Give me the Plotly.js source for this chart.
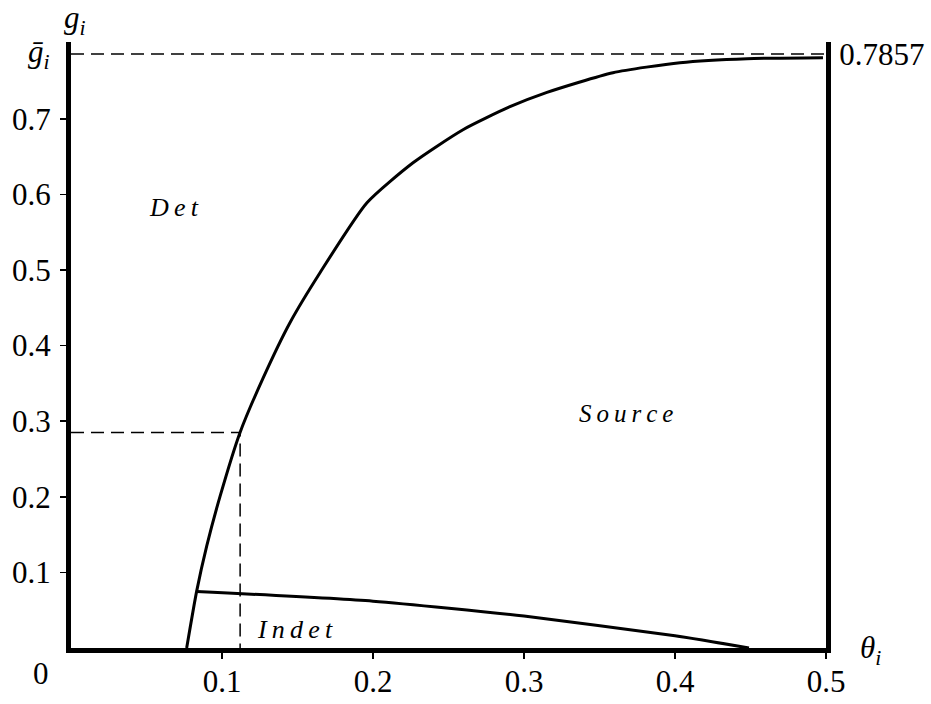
<!DOCTYPE html>
<html>
<head>
<meta charset="utf-8">
<script src="https://cdn.plot.ly/plotly-3.0.1.min.js"></script>
<style>body{margin:0;background:#fff}</style>
</head>
<body>
<div id="chart" style="width:931px;height:704px;"></div>
<script>
// Boundary between Det and Source regions
const boundaryTheta = [0.0766, 0.0832, 0.0899, 0.0987, 0.1119, 0.1272, 0.145, 0.1649, 0.196, 0.2265, 0.2596, 0.2907, 0.3152, 0.3589, 0.4033, 0.4477, 0.498];
const boundaryG     = [0, 0.0749, 0.135, 0.2005, 0.2848, 0.357, 0.4303, 0.4964, 0.589, 0.6419, 0.6856, 0.716, 0.735, 0.761, 0.7742, 0.7795, 0.7808];
// Boundary of the Indet region
const indetTheta = [0.0832, 0.2, 0.3, 0.4, 0.449];
const indetG     = [0.0749, 0.062, 0.0422, 0.0161, 0];
// Reference values
const gBar = 0.7857;
const markTheta = 0.112;
const markG = 0.285;
const xTicks = [0.1, 0.2, 0.3, 0.4, 0.5];
const xTickText = ['0.1', '0.2', '0.3', '0.4', '0.5'];
const yTicks = [0.1, 0.2, 0.3, 0.4, 0.5, 0.6, 0.7];
const yTickText = ['0.1', '0.2', '0.3', '0.4', '0.5', '0.6', '0.7'];

const FONT = 'Liberation Serif, Times New Roman, serif';
const yRange = [0, 0.8016];
const dashLine = {color: 'black', width: 1.5, dash: '13px,7px'};

const traces = [
  {x: boundaryTheta, y: boundaryG, mode: 'lines', line: {color: 'black', width: 3, shape: 'spline', smoothing: 0.6}, hoverinfo: 'skip'},
  {x: indetTheta, y: indetG, mode: 'lines', line: {color: 'black', width: 3, shape: 'spline', smoothing: 0.6}, hoverinfo: 'skip'},
  {x: [0, 0.5], y: [gBar, gBar], yaxis: 'y2', mode: 'lines', line: dashLine, hoverinfo: 'skip'},
  {x: [0, markTheta, markTheta], y: [markG, markG, 0], mode: 'lines', line: dashLine, hoverinfo: 'skip'}
];

const layout = {
  width: 931, height: 704,
  margin: {l: 71, r: 105, t: 42, b: 56},
  paper_bgcolor: 'white', plot_bgcolor: 'white',
  showlegend: false,
  font: {family: FONT, size: 31, color: 'black'},
  xaxis: {
    range: [0, 0.5], showgrid: false, zeroline: false,
    showline: true, linewidth: 5, linecolor: 'black',
    ticks: 'outside', ticklen: 6, tickwidth: 1.5, tickcolor: 'black',
    tickvals: xTicks, ticktext: xTickText,
    tickfont: {family: FONT, size: 31, color: 'black'},
    ticklabelstandoff: -4
  },
  yaxis: {
    range: yRange, showgrid: false, zeroline: false,
    showline: true, linewidth: 5, linecolor: 'black',
    ticks: 'outside', ticklen: 6, tickwidth: 1.5, tickcolor: 'black',
    tickvals: yTicks, ticktext: yTickText,
    tickfont: {family: FONT, size: 31, color: 'black'},
    ticklabelstandoff: 3
  },
  yaxis2: {
    range: yRange, overlaying: 'y', side: 'right', anchor: 'x',
    showgrid: false, zeroline: false,
    showline: true, linewidth: 5, linecolor: 'black',
    ticks: '', tickvals: [gBar], ticktext: ['0.7857'],
    tickfont: {family: FONT, size: 31, color: 'black'},
    ticklabelstandoff: 2
  },
  annotations: [
    {xref: 'x', yref: 'y', x: 0.0682, y: 0.583, text: '<i>D\u2009e\u2009t</i>', showarrow: false, font: {family: FONT, size: 26}},
    {xref: 'x', yref: 'y', x: 0.3675, y: 0.31, text: '<i>S\u2009o\u2009u\u2009r\u2009c\u2009e</i>', showarrow: false, font: {family: FONT, size: 25}},
    {xref: 'x', yref: 'y', x: 0.1483, y: 0.024, text: '<i>I\u2009n\u2009d\u2009e\u2009t</i>', showarrow: false, font: {family: FONT, size: 26}},
    {xref: 'paper', yref: 'paper', x: 1.042, y: -0.004, xanchor: 'left', yanchor: 'middle', text: '<i>θ<sub>i</sub></i>', showarrow: false, font: {family: FONT, size: 31}},
    {xref: 'paper', yref: 'paper', x: 0.005, y: 1.036, xanchor: 'center', yanchor: 'middle', text: '<i>g<sub>i</sub></i>', showarrow: false, font: {family: FONT, size: 31}},
    {xref: 'paper', yref: 'y', x: -0.025, y: gBar, xanchor: 'right', yanchor: 'middle', text: '<i>ḡ<sub>i</sub></i>', showarrow: false, font: {family: FONT, size: 31}},
    {xref: 'paper', yref: 'paper', x: -0.04, y: -0.042, xanchor: 'center', yanchor: 'middle', text: '0', showarrow: false, font: {family: FONT, size: 31}}
  ]
};

Plotly.newPlot('chart', traces, layout, {staticPlot: true, displayModeBar: false});
</script>
</body>
</html>
